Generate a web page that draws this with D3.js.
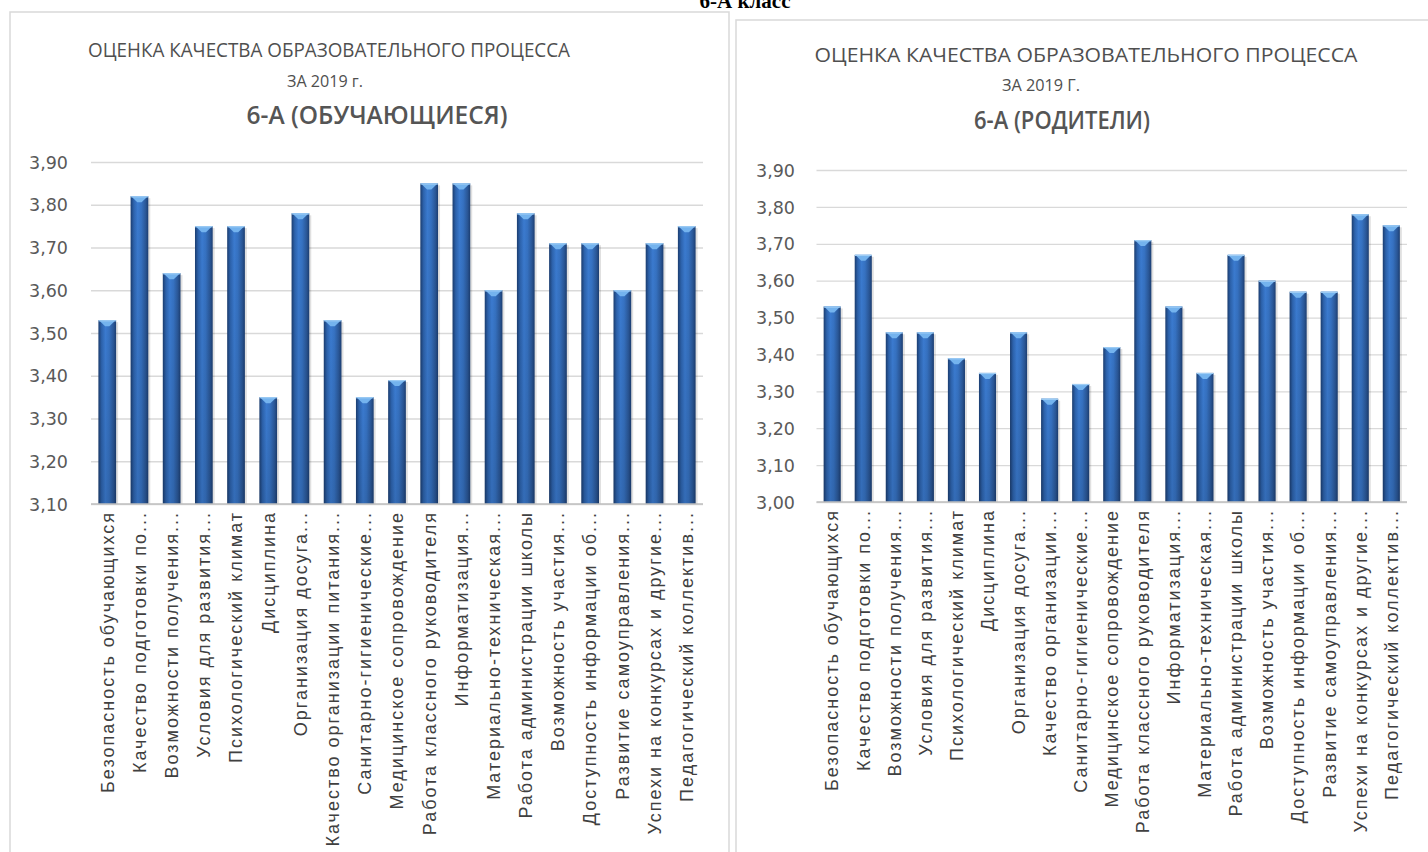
<!DOCTYPE html>
<html><head><meta charset="utf-8">
<script src="https://cdn.jsdelivr.net/npm/d3@7"></script>
<style>
html,body{margin:0;padding:0;background:#fff;overflow:hidden;}
svg{display:block;}
</style></head>
<body>
<svg id="c" width="1428" height="852"></svg>
<script>
// ---------- DATA ----------
const headerText = "6-А класс";
const titleLine1 = "ОЦЕНКА КАЧЕСТВА ОБРАЗОВАТЕЛЬНОГО ПРОЦЕССА";
const titleLine2Students = "ЗА 2019 г.";
const titleLine2Parents = "ЗА 2019 Г.";
const titleLine3Students = "6-А (ОБУЧАЮЩИЕСЯ)";
const titleLine3Parents = "6-А (РОДИТЕЛИ)";

const categoriesStudents = [
  "Безопасность обучающихся",
  "Качество подготовки по...",
  "Возможности получения...",
  "Условия для развития...",
  "Психологический климат",
  "Дисциплина",
  "Организация досуга...",
  "Качество организации питания...",
  "Санитарно-гигиенические...",
  "Медицинское сопровождение",
  "Работа классного руководителя",
  "Информатизация...",
  "Материально-техническая...",
  "Работа администрации школы",
  "Возможность участия...",
  "Доступность информации об...",
  "Развитие самоуправления...",
  "Успехи на конкурсах и другие...",
  "Педагогический коллектив..."
];
const categoriesParents = [
  "Безопасность обучающихся",
  "Качество подготовки по...",
  "Возможности получения...",
  "Условия для развития...",
  "Психологический климат",
  "Дисциплина",
  "Организация досуга...",
  "Качество организации...",
  "Санитарно-гигиенические...",
  "Медицинское сопровождение",
  "Работа классного руководителя",
  "Информатизация...",
  "Материально-техническая...",
  "Работа администрации школы",
  "Возможность участия...",
  "Доступность информации об...",
  "Развитие самоуправления...",
  "Успехи на конкурсах и другие...",
  "Педагогический коллектив..."
];
const valuesStudents = [3.53, 3.82, 3.64, 3.75, 3.75, 3.35, 3.78, 3.53, 3.35, 3.39, 3.85, 3.85, 3.60, 3.78, 3.71, 3.71, 3.60, 3.71, 3.75];
const valuesParents  = [3.53, 3.67, 3.46, 3.46, 3.39, 3.35, 3.46, 3.28, 3.32, 3.42, 3.71, 3.53, 3.35, 3.67, 3.60, 3.57, 3.57, 3.78, 3.75];
const ticksStudents = [3.10, 3.20, 3.30, 3.40, 3.50, 3.60, 3.70, 3.80, 3.90];
const ticksParents  = [3.00, 3.10, 3.20, 3.30, 3.40, 3.50, 3.60, 3.70, 3.80, 3.90];

// ---------- DRAW ----------
const svg = d3.select("#c");
const defs = svg.append("defs");
const grad = defs.append("linearGradient").attr("id","barGrad").attr("x1","0").attr("x2","1").attr("y1","0").attr("y2","0");
[["0%","#1b3d70"],["18%","#2d63ad"],["40%","#3b7bd0"],["60%","#3672c2"],["85%","#2a5797"],["100%","#1c3e72"]]
  .forEach(([o,c]) => grad.append("stop").attr("offset",o).attr("stop-color",c));
const vgrad = defs.append("linearGradient").attr("id","barShade").attr("x1","0").attr("x2","0").attr("y1","0").attr("y2","1");
vgrad.append("stop").attr("offset","0%").attr("stop-color","#000").attr("stop-opacity",0);
vgrad.append("stop").attr("offset","100%").attr("stop-color","#000").attr("stop-opacity",0.12);

// header
svg.append("text").attr("x",745).attr("y",8).attr("text-anchor","middle")
  .style("font-family","'Liberation Serif', serif").style("font-weight","bold").style("font-size","21px")
  .attr("fill","#000").text(headerText);

function drawPanel(cfg){
  const g = svg.append("g");
  g.append("rect").attr("x",cfg.panel[0]).attr("y",cfg.panel[1]).attr("width",cfg.panel[2]).attr("height",cfg.panel[3])
    .attr("fill","#fff").attr("stroke","#d9d9d9").attr("stroke-width",1.5);

  // titles
  const tf = "'Open Sans','Noto Sans',sans-serif";
  g.append("text").attr("x",cfg.tx[0]).attr("y",cfg.ty[0]).attr("text-anchor","middle")
    .style("font-family",tf).style("font-size","19.5px").attr("fill","#4f4f4f")
    .attr("textLength",cfg.tw[0]).attr("lengthAdjust","spacingAndGlyphs").text(titleLine1);
  g.append("text").attr("x",cfg.tx[1]).attr("y",cfg.ty[1]).attr("text-anchor","middle")
    .style("font-family",tf).style("font-size","16px").attr("fill","#4f4f4f")
    .attr("textLength",cfg.tw[1]).attr("lengthAdjust","spacingAndGlyphs").text(cfg.line2);
  g.append("text").attr("x",cfg.tx[2]).attr("y",cfg.ty[2]).attr("text-anchor","middle")
    .style("font-family",tf).style("font-size","26px").style("font-weight","600").attr("fill","#555555")
    .attr("textLength",cfg.tw[2]).attr("lengthAdjust","spacingAndGlyphs").text(cfg.line3);

  const x = d3.scaleBand().domain(cfg.cats).range(cfg.xr).paddingInner(0.45).paddingOuter(0.23);
  const y = d3.scaleLinear().domain(cfg.yd).range(cfg.yr);

  // grid
  const grid = g.append("g").attr("transform",`translate(${cfg.xr[0]},0)`)
    .call(d3.axisLeft(y).tickValues(cfg.ticks).tickSize(-(cfg.xr[1]-cfg.xr[0])).tickFormat(""));
  grid.select(".domain").remove();
  grid.selectAll("line").attr("stroke","#d9d9d9").attr("stroke-width",1.3);

  // y labels
  const ya = g.append("g").attr("transform",`translate(${cfg.ylx},0)`)
    .call(d3.axisLeft(y).tickValues(cfg.ticks).tickSize(0).tickPadding(0)
      .tickFormat(d => d.toFixed(2).replace(".", ",")));
  ya.select(".domain").remove();
  ya.selectAll("text").style("font-family","'DejaVu Sans',sans-serif").style("font-size","17.5px")
    .attr("fill","#595959").attr("dy","0.35em");

  // bars
  const data = cfg.cats.map((c,i)=>({c, v: cfg.vals[i]}));
  const bars = g.append("g");
  bars.selectAll(".sh").data(data).join("rect")
    .attr("x", d=>x(d.c)+2).attr("y", d=>y(d.v)+2).attr("width", x.bandwidth())
    .attr("height", d=>y(cfg.yd[0])-y(d.v)-2).attr("fill","#000").attr("opacity",0.12);
  bars.selectAll(".b").data(data).join("rect")
    .attr("x", d=>x(d.c)).attr("y", d=>y(d.v)).attr("width", x.bandwidth())
    .attr("height", d=>y(cfg.yd[0])-y(d.v)).attr("fill","url(#barGrad)");
  bars.selectAll(".bs").data(data).join("rect")
    .attr("x", d=>x(d.c)).attr("y", d=>y(d.v)).attr("width", x.bandwidth())
    .attr("height", d=>y(cfg.yd[0])-y(d.v)).attr("fill","url(#barShade)");
  bars.selectAll(".cap").data(data).join("path")
    .attr("d", d=>{ const x0=x(d.c), w=x.bandwidth(), t=y(d.v);
      return `M${x0+0.5},${t}L${x0+w-0.5},${t}L${x0+w*0.62},${t+6}L${x0+w*0.38},${t+6}Z`; })
    .attr("fill","#74b3ee");
  bars.selectAll(".capl").data(data).join("rect")
    .attr("x", d=>x(d.c)).attr("y", d=>y(d.v)).attr("width", x.bandwidth()).attr("height",1.2)
    .attr("fill","#9fcdf5");

  // x axis line
  g.append("line").attr("x1",cfg.xr[0]).attr("x2",cfg.xr[1]).attr("y1",y(cfg.yd[0])).attr("y2",y(cfg.yd[0]))
    .attr("stroke","#bfbfbf").attr("stroke-width",1.3);

  // x labels
  const xl = g.append("g");
  xl.selectAll("text").data(cfg.cats).join("text")
    .attr("transform", d=>`translate(${x(d)+x.bandwidth()/2},${y(cfg.yd[0])+7}) rotate(-90)`)
    .attr("text-anchor","end").attr("dy","0.35em")
    .style("font-family","'Liberation Sans',Arial,sans-serif").style("font-size","18px")
    .style("letter-spacing","2.0px")
    .attr("fill","#404040").text(d=>d);
}

drawPanel({
  panel:[10,12,719,860], cats:categoriesStudents, vals:valuesStudents, ticks:ticksStudents,
  yd:[3.1,3.9], yr:[504,162], xr:[91,703], ylx:68,
  tx:[329,325,377], ty:[57,87,124], tw:[482,76,261], line2:titleLine2Students, line3:titleLine3Students
});
drawPanel({
  panel:[736,20,720,860], cats:categoriesParents, vals:valuesParents, ticks:ticksParents,
  yd:[3.0,3.9], yr:[502,170], xr:[816.5,1407], ylx:795,
  tx:[1086,1041,1062], ty:[62,91,129], tw:[543,78,176], line2:titleLine2Parents, line3:titleLine3Parents
});
</script>
</body></html>
